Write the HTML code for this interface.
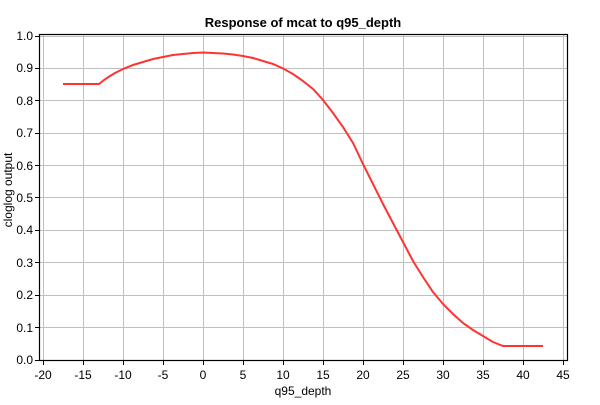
<!DOCTYPE html>
<html><head><style>body{margin:0;background:#fff}svg text{font-family:"Liberation Sans",sans-serif;font-size:12px}</style></head><body>
<svg width="600" height="400" xmlns="http://www.w3.org/2000/svg">
<rect width="600" height="400" fill="#fff"/>
<g stroke="#c0c0c0" stroke-width="1">
<line x1="43.5" y1="35" x2="43.5" y2="360"/><line x1="83.5" y1="35" x2="83.5" y2="360"/><line x1="123.5" y1="35" x2="123.5" y2="360"/><line x1="163.5" y1="35" x2="163.5" y2="360"/><line x1="203.5" y1="35" x2="203.5" y2="360"/><line x1="243.5" y1="35" x2="243.5" y2="360"/><line x1="283.5" y1="35" x2="283.5" y2="360"/><line x1="323.5" y1="35" x2="323.5" y2="360"/><line x1="363.5" y1="35" x2="363.5" y2="360"/><line x1="403.5" y1="35" x2="403.5" y2="360"/><line x1="443.5" y1="35" x2="443.5" y2="360"/><line x1="483.5" y1="35" x2="483.5" y2="360"/><line x1="523.5" y1="35" x2="523.5" y2="360"/><line x1="563.5" y1="35" x2="563.5" y2="360"/>
<line x1="40" y1="327.5" x2="568" y2="327.5"/><line x1="40" y1="295.5" x2="568" y2="295.5"/><line x1="40" y1="262.5" x2="568" y2="262.5"/><line x1="40" y1="230.5" x2="568" y2="230.5"/><line x1="40" y1="197.5" x2="568" y2="197.5"/><line x1="40" y1="165.5" x2="568" y2="165.5"/><line x1="40" y1="133.5" x2="568" y2="133.5"/><line x1="40" y1="100.5" x2="568" y2="100.5"/><line x1="40" y1="68.5" x2="568" y2="68.5"/><line x1="40" y1="36.5" x2="568" y2="36.5"/>
</g>
<rect x="39.5" y="34.5" width="528" height="326" fill="none" stroke="#000" stroke-width="1.2"/>
<g stroke="#000">
<line x1="43.5" y1="360" x2="43.5" y2="365"/><line x1="83.5" y1="360" x2="83.5" y2="365"/><line x1="123.5" y1="360" x2="123.5" y2="365"/><line x1="163.5" y1="360" x2="163.5" y2="365"/><line x1="203.5" y1="360" x2="203.5" y2="365"/><line x1="243.5" y1="360" x2="243.5" y2="365"/><line x1="283.5" y1="360" x2="283.5" y2="365"/><line x1="323.5" y1="360" x2="323.5" y2="365"/><line x1="363.5" y1="360" x2="363.5" y2="365"/><line x1="403.5" y1="360" x2="403.5" y2="365"/><line x1="443.5" y1="360" x2="443.5" y2="365"/><line x1="483.5" y1="360" x2="483.5" y2="365"/><line x1="523.5" y1="360" x2="523.5" y2="365"/><line x1="563.5" y1="360" x2="563.5" y2="365"/>
<line x1="35" y1="360.5" x2="40" y2="360.5"/><line x1="35" y1="327.5" x2="40" y2="327.5"/><line x1="35" y1="295.5" x2="40" y2="295.5"/><line x1="35" y1="262.5" x2="40" y2="262.5"/><line x1="35" y1="230.5" x2="40" y2="230.5"/><line x1="35" y1="197.5" x2="40" y2="197.5"/><line x1="35" y1="165.5" x2="40" y2="165.5"/><line x1="35" y1="133.5" x2="40" y2="133.5"/><line x1="35" y1="100.5" x2="40" y2="100.5"/><line x1="35" y1="68.5" x2="40" y2="68.5"/><line x1="35" y1="36.5" x2="40" y2="36.5"/>
</g>
<g text-anchor="middle">
<text x="43" y="379">-20</text><text x="83" y="379">-15</text><text x="123" y="379">-10</text><text x="163" y="379">-5</text><text x="203" y="379">0</text><text x="243" y="379">5</text><text x="283" y="379">10</text><text x="323" y="379">15</text><text x="363" y="379">20</text><text x="403" y="379">25</text><text x="443" y="379">30</text><text x="483" y="379">35</text><text x="523" y="379">40</text><text x="563" y="379">45</text>
</g>
<g text-anchor="end">
<text x="33" y="364">0.0</text><text x="33" y="332">0.1</text><text x="33" y="299">0.2</text><text x="33" y="267">0.3</text><text x="33" y="234">0.4</text><text x="33" y="202">0.5</text><text x="33" y="170">0.6</text><text x="33" y="137">0.7</text><text x="33" y="105">0.8</text><text x="33" y="72">0.9</text><text x="33" y="40">1.0</text>
</g>
<text x="303" y="395" text-anchor="middle">q95_depth</text>
<text x="12" y="190" text-anchor="middle" transform="rotate(-90 12 190)">cloglog output</text>
<text x="303" y="27" text-anchor="middle" font-weight="bold" style="font-size:13px">Response of mcat to q95_depth</text>
<polyline fill="none" stroke="#ff3333" stroke-width="2" points="63,84 99,84 104,80 110,76 115,73 123,69 133,65 143,62 153,59 163,57 173,55 183,54 193,53 203,52.5 213,53 223,53.5 233,54.5 243,56 253,58 263,61 273,64 283,68.5 293,74 303,81 313,89 323,100 333,113 343,127 353,143 363,164 373,184 383,204 393,223 403,242 413,261 423,277 433,292 443,304 453,314 463,323 473,330 483,336 493,342 503,346 543,346"/>
</svg>
</body></html>
